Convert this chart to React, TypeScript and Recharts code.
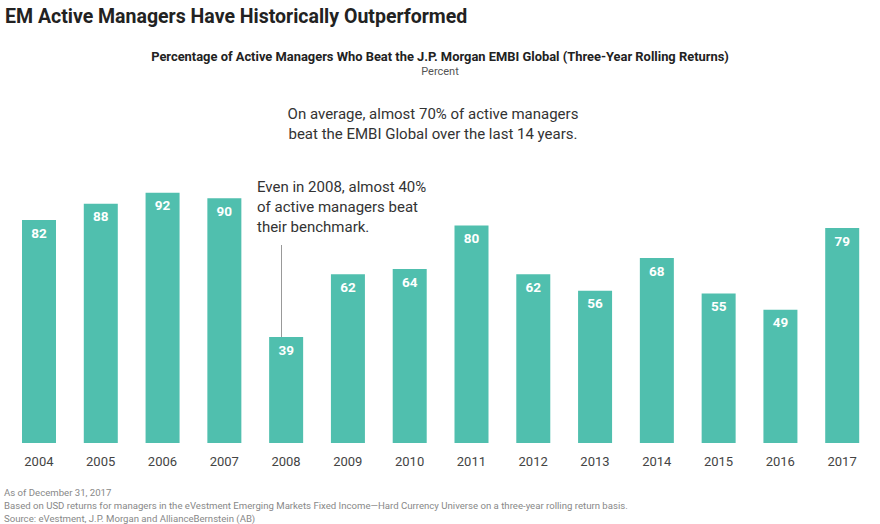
import { BarChart, Bar, XAxis, YAxis, LabelList } from "recharts";

const years = ["2004", "2005", "2006", "2007", "2008", "2009", "2010", "2011", "2012", "2013", "2014", "2015", "2016", "2017"];
const beatPct = [82, 88, 92, 90, 39, 62, 64, 80, 62, 56, 68, 55, 49, 79];

const data = years.map((year, i) => ({ year, value: beatPct[i] }));

const FONT = "Roboto, 'Open Sans', sans-serif";
const BAR = "#50bfae";

const abs = (style: React.CSSProperties): React.CSSProperties => ({ position: "absolute", margin: 0, whiteSpace: "nowrap", ...style });

export default function App() {
  return (
    <div style={{ position: "absolute", left: 0, top: 0, width: 880, height: 524, background: "#fff", fontFamily: FONT, overflow: "hidden" }}>
      <BarChart width={880} height={524} data={data} margin={{ top: 171, right: 7, bottom: 51, left: 8 }}>
        <YAxis hide domain={[0, 100]} />
        <XAxis
          dataKey="year"
          axisLine={false}
          tickLine={false}
          tickMargin={8}
          interval={0}
          tick={{ fill: "#444", fontSize: 13, fontFamily: FONT }}
        />
        <Bar dataKey="value" fill={BAR} barSize={34} isAnimationActive={false}>
          <LabelList dataKey="value" position="insideTop" offset={8} fill="#fff" fontSize={13.5} fontWeight={700} fontFamily={FONT} />
        </Bar>
      </BarChart>

      <div style={abs({ left: 5, top: 5, fontSize: 19.5, fontWeight: 700, color: "#222" })}>EM Active Managers Have Historically Outperformed</div>
      <div style={abs({ left: 0, width: 880, top: 49, textAlign: "center", fontSize: 12.9, fontWeight: 700, color: "#222" })}>
        Percentage of Active Managers Who Beat the J.P. Morgan EMBI Global (Three-Year Rolling Returns)
      </div>
      <div style={abs({ left: 0, width: 880, top: 65, textAlign: "center", fontSize: 11, color: "#555" })}>Percent</div>

      <div style={abs({ left: 233, width: 400, top: 104, textAlign: "center", fontSize: 15, lineHeight: "20px", color: "#333" })}>
        On average, almost 70% of active managers
        <br />
        beat the EMBI Global over the last 14 years.
      </div>

      <div style={abs({ left: 257, top: 177, fontSize: 15, lineHeight: "20px", color: "#333" })}>
        Even in 2008, almost 40%
        <br />
        of active managers beat
        <br />
        their benchmark.
      </div>
      <div style={abs({ left: 281, top: 245, width: 1, height: 92, background: "#999" })} />

      <div style={abs({ left: 4, top: 486, fontSize: 9.6, lineHeight: "13px", color: "#888" })}>
        As of December 31, 2017
        <br />
        Based on USD returns for managers in the eVestment Emerging Markets Fixed Income—Hard Currency Universe on a three-year rolling return basis.
        <br />
        Source: eVestment, J.P. Morgan and AllianceBernstein (AB)
      </div>
    </div>
  );
}
